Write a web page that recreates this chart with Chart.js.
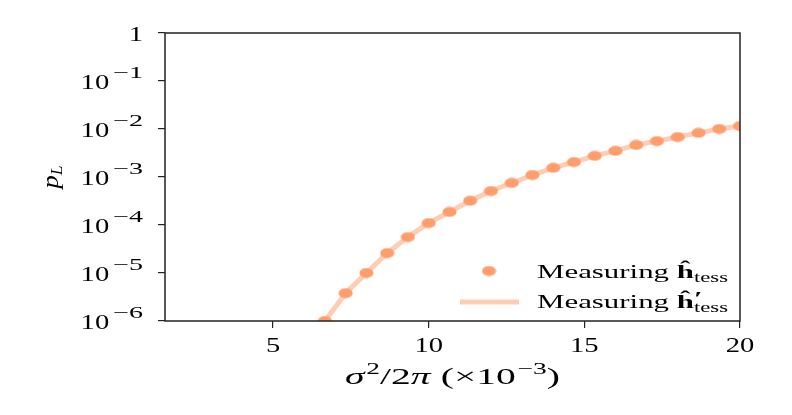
<!DOCTYPE html>
<html>
<head>
<meta charset="utf-8">
<script src="https://cdn.jsdelivr.net/npm/chart.js@4.4.1/dist/chart.umd.min.js"></script>
<style>
  html, body { margin: 0; padding: 0; background: #fff; }
</style>
</head>
<body>
<canvas id="chart" width="792" height="415"></canvas>
<script>
// sigma^2 / 2pi (x10^-3)
const sigmaValues = [6.667, 7.333, 8.0, 8.667, 9.333, 10.0, 10.667, 11.333, 12.0, 12.667,
    13.333, 14.0, 14.667, 15.333, 16.0, 16.667, 17.333, 18.0, 18.667, 19.333, 20.0];
// logical error rate p_L, measuring h_tess (dots)
const pLTess = [1.0e-6, 3.8e-6, 1.0e-5, 2.6e-5, 5.6e-5, 1.1e-4, 1.87e-4, 3.2e-4, 5.1e-4, 7.5e-4,
    1.1e-3, 1.55e-3, 2.05e-3, 2.75e-3, 3.5e-3, 4.65e-3, 5.6e-3, 6.8e-3, 8.3e-3, 1.0e-2, 1.15e-2];
// measuring h'_tess (line)
const pLTessPrime = [1.0e-6, 3.8e-6, 1.0e-5, 2.6e-5, 5.6e-5, 1.1e-4, 1.87e-4, 3.2e-4, 5.1e-4, 7.5e-4,
    1.1e-3, 1.55e-3, 2.05e-3, 2.75e-3, 3.5e-3, 4.65e-3, 5.6e-3, 6.8e-3, 8.3e-3, 1.0e-2, 1.15e-2];
const xTicks = [5, 10, 15, 20];
const yTickExponents = [0, -1, -2, -3, -4, -5, -6];
const legendNames = ['Measuring ', 'Measuring '];

const DOT_COLOR = '#FF9E6C';
const LINE_COLOR = '#FFCDB4';
const AXIS_COLOR = '#222';
const SERIF = '"Liberation Serif", "DejaVu Serif", serif';
const SX = 1.35;

function font(size, style) {
    return (style || '') + ' ' + size + 'px ' + SERIF;
}

// a little ellipse as the marker
const dot = document.createElement('canvas');
dot.width = 15;
dot.height = 11;
const dc = dot.getContext('2d');
dc.fillStyle = DOT_COLOR;
dc.beginPath();
dc.ellipse(7.5, 5.5, 7, 5, 0, 0, 2 * Math.PI);
dc.fill();

function runsWidth(ctx, runs) {
    let w = 0;
    runs.forEach(r => {
        ctx.font = r.f;
        if (!r.stay) w += ctx.measureText(r.t).width * (r.sx || 1) + (r.gap || 0);
    });
    return w;
}

// draws pieces of text one after another; fitW stretches them to a width
function drawRuns(ctx, runs, x, y, align, sx, fitW) {
    const natural = runsWidth(ctx, runs);
    if (fitW) sx = fitW / natural;
    sx = sx || SX;
    const w = natural * sx;
    let cx = align === 'center' ? x - w / 2 : align === 'right' ? x - w : x;
    runs.forEach(r => {
        ctx.font = r.f;
        ctx.save();
        ctx.translate(cx, y + (r.dy || 0));
        ctx.scale(sx * (r.sx || 1), 1);
        ctx.fillText(r.t, 0, 0);
        ctx.restore();
        if (!r.stay) cx += (ctx.measureText(r.t).width * (r.sx || 1) + (r.gap || 0)) * sx;
    });
    return sx;
}

const textPlugin = {
    id: 'mathText',
    afterDraw(chart) {
        const ctx = chart.ctx;
        const area = chart.chartArea;
        const xs = chart.scales.x;
        const ys = chart.scales.y;
        ctx.save();
        ctx.fillStyle = '#000';
        ctx.textBaseline = 'alphabetic';

        // frame
        ctx.strokeStyle = AXIS_COLOR;
        ctx.lineWidth = 1.5;
        ctx.strokeRect(area.left, area.top, area.right - area.left, area.bottom - area.top);

        // y tick labels
        yTickExponents.forEach(e => {
            const py = ys.getPixelForValue(Math.pow(10, e));
            const runs = e === 0
                ? [{ t: '1', f: font(22) }]
                : [{ t: '10', f: font(22), gap: 3 }, { t: '\u2212' + (-e), f: font(16), dy: -11, sx: 1.35 }];
            drawRuns(ctx, runs, area.left - 22, py + 8, 'right', 1.3);
        });

        // x tick labels
        xTicks.forEach(v => {
            const px = xs.getPixelForValue(v);
            drawRuns(ctx, [{ t: String(v), f: font(22) }], px, area.bottom + 31, 'center', 1.3);
        });

        // x title
        const title = [
            { t: '\u03C3', f: font(23, 'italic'), gap: 1 },
            { t: '2', f: font(16), dy: -10 },
            { t: '/2', f: font(23) },
            { t: '\u03C0', f: font(23, 'italic'), gap: 6 },
            { t: '(\u00D710', f: font(23), gap: 1 },
            { t: '\u22123', f: font(16), dy: -10 },
            { t: ')', f: font(23) }
        ];
        drawRuns(ctx, title, (area.left + area.right) / 2, area.bottom + 63, 'center', 0, 215);

        // y title
        ctx.save();
        ctx.translate(58, (area.top + area.bottom) / 2);
        ctx.rotate(-Math.PI / 2);
        drawRuns(ctx, [{ t: 'p', f: font(24, 'italic') }, { t: 'L', f: font(16, 'italic'), dy: 4 }], 0, 0, 'center', 1.1);
        ctx.restore();

        // legend
        const lx = area.right - 280;
        const ly1 = area.bottom - 50;
        const ly2 = area.bottom - 19;
        ctx.drawImage(dot, lx + 29 - dot.width / 2, ly1 - dot.height / 2);
        ctx.strokeStyle = LINE_COLOR;
        ctx.lineWidth = 5;
        ctx.beginPath();
        ctx.moveTo(lx, ly2);
        ctx.lineTo(lx + 59, ly2);
        ctx.stroke();
        const lsx = drawRuns(ctx, [
            { t: legendNames[0], f: font(19) },
            { t: '\u0125', f: font(19, 'bold') },
            { t: 'tess', f: font(14), dy: 4 }
        ], lx + 77, ly1 + 7, 'left', 0, 191);
        drawRuns(ctx, [
            { t: legendNames[1], f: font(19) },
            { t: '\u0125', f: font(19, 'bold') },
            { t: '\u2032', f: font(19, 'bold'), dy: -3, stay: true },
            { t: 'tess', f: font(14), dy: 4 }
        ], lx + 77, ly2 + 6, 'left', lsx);

        ctx.restore();
    }
};

const ctx = document.getElementById('chart').getContext('2d');

new Chart(ctx, {
    type: 'line',
    data: {
        datasets: [
            {
                label: 'Measuring h_tess',
                data: sigmaValues.map((x, i) => ({ x: x, y: pLTess[i] })),
                showLine: false,
                pointStyle: dot,
                pointRadius: 7,
                clip: 0
            },
            {
                label: "Measuring h'_tess",
                data: sigmaValues.map((x, i) => ({ x: x, y: pLTessPrime[i] })),
                borderColor: LINE_COLOR,
                borderWidth: 5,
                pointRadius: 0,
                tension: 0,
                clip: 0
            }
        ]
    },
    options: {
        responsive: false,
        animation: false,
        layout: { padding: { top: 33, right: 52, left: 0, bottom: 0 } },
        plugins: {
            legend: { display: false },
            tooltip: { enabled: false }
        },
        scales: {
            x: {
                type: 'linear',
                min: 1.53,
                max: 20,
                afterBuildTicks: s => { s.ticks = xTicks.map(v => ({ value: v })); },
                afterFit: s => { s.height = 94; },
                ticks: { display: false },
                border: { display: false },
                grid: { drawOnChartArea: false, drawTicks: true, tickLength: 7, color: AXIS_COLOR, lineWidth: 1.2 }
            },
            y: {
                type: 'logarithmic',
                min: 1e-6,
                max: 1,
                afterBuildTicks: s => { s.ticks = yTickExponents.map(e => ({ value: Math.pow(10, e) })); },
                afterFit: s => { s.width = 165; },
                ticks: { display: false },
                border: { display: false },
                grid: { drawOnChartArea: false, drawTicks: true, tickLength: 7, color: AXIS_COLOR, lineWidth: 1.2 }
            }
        }
    },
    plugins: [textPlugin]
});
</script>
</body>
</html>
